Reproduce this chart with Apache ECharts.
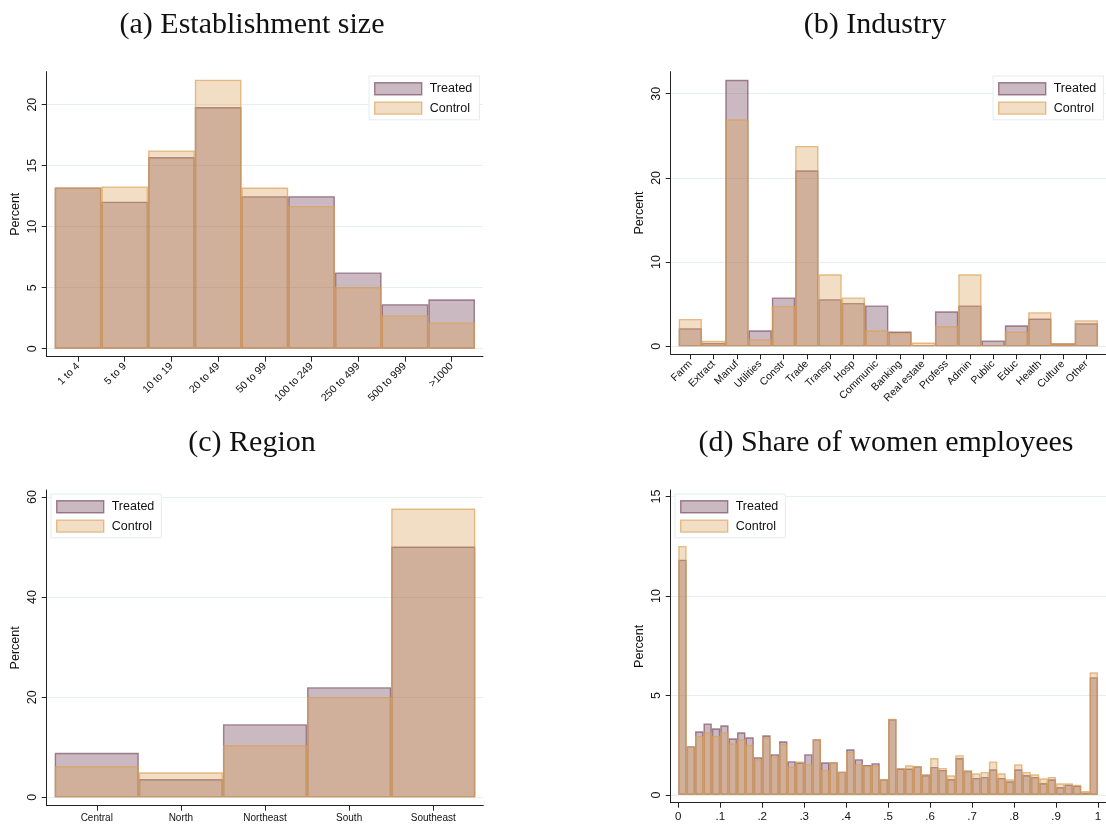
<!DOCTYPE html>
<html>
<head>
<meta charset="utf-8">
<script src="https://cdn.jsdelivr.net/npm/echarts@6/dist/echarts.min.js"></script>
<style>
html,body{margin:0;padding:0;background:#fff;}
#chart{width:1106px;height:838px;}
</style>
</head>
<body>
<div id="chart"></div>
<script>
// ---------- DATA ----------
const panelTitles = ['(a) Establishment size', '(b) Industry', '(c) Region', '(d) Share of women employees'];
const seriesNames = ['Treated', 'Control'];

const sizeCats = ['1 to 4', '5 to 9', '10 to 19', '20 to 49', '50 to 99', '100 to 249', '250 to 499', '500 to 999', '>1000'];
const sizeTreated = [13.2, 12.05, 15.7, 19.8, 12.5, 12.5, 6.25, 3.65, 4.05];
const sizeControl = [13.2, 13.3, 16.25, 22.05, 13.2, 11.7, 5.05, 2.75, 2.15];
const sizeYTicks = [0, 5, 10, 15, 20];

const industryCats = ['Farm', 'Extract', 'Manuf', 'Utilities', 'Constr', 'Trade', 'Transp', 'Hosp', 'Communic', 'Banking', 'Real estate', 'Profess', 'Admin', 'Public', 'Educ', 'Health', 'Culture', 'Other'];
const industryTreated = [2.15, 0.4, 31.65, 1.9, 5.8, 20.9, 5.6, 5.15, 4.85, 1.75, 0.15, 4.15, 4.85, 0.7, 2.5, 3.3, 0.35, 2.75];
const industryControl = [3.25, 0.65, 26.95, 0.85, 4.8, 23.8, 8.55, 5.8, 1.9, 1.6, 0.45, 2.4, 8.55, 0.15, 1.75, 4.05, 0.35, 3.1];
const industryYTicks = [0, 10, 20, 30];

const regionCats = ['Central', 'North', 'Northeast', 'South', 'Southeast'];
const regionTreated = [8.9, 3.65, 14.6, 22.0, 50.1];
const regionControl = [6.25, 5.0, 10.45, 20.05, 57.7];
const regionYTicks = [0, 20, 40, 60];

const womenBinWidth = 0.02;
const womenTreated = [11.83, 2.45, 3.2, 3.6, 3.35, 3.5, 2.85, 3.15, 2.9, 1.9,
  3.0, 2.05, 2.7, 1.7, 1.63, 2.05, 2.8, 1.64, 1.64, 1.17,
  2.3, 1.8, 1.51, 1.6, 0.79, 3.81, 1.33, 1.33, 1.44, 1.0,
  1.41, 1.26, 0.8, 1.86, 1.22, 0.86, 0.91, 1.29, 0.86, 0.69,
  1.29, 1.0, 0.91, 0.6, 0.79, 0.4, 0.52, 0.47, 0.12, 5.92];
const womenControl = [12.52, 2.43, 2.97, 3.15, 2.97, 3.15, 2.6, 2.8, 2.52, 1.81,
  2.9, 1.93, 2.57, 1.43, 1.68, 1.56, 2.8, 1.26, 1.64, 1.17,
  2.18, 1.56, 1.46, 1.48, 0.79, 3.83, 1.36, 1.49, 1.44, 1.06,
  1.86, 1.36, 0.99, 2.0, 1.24, 1.09, 1.16, 1.69, 1.09, 0.79,
  1.54, 1.16, 1.04, 0.84, 0.91, 0.59, 0.59, 0.52, 0.2, 6.17];
const womenXTicks = [0, 0.1, 0.2, 0.3, 0.4, 0.5, 0.6, 0.7, 0.8, 0.9, 1];
const womenXLabels = ['0', '.1', '.2', '.3', '.4', '.5', '.6', '.7', '.8', '.9', '1'];
const womenYTicks = [0, 5, 10, 15];

// ---------- STYLE ----------
const SANS = "'Liberation Sans', Arial, sans-serif";
const SERIF = "'Liberation Serif', 'Times New Roman', serif";
const styles = {
  Treated: { color: 'rgba(106,55,78,0.35)', borderColor: 'rgba(106,55,78,0.6)', borderWidth: 1.4 },
  Control: { color: 'rgba(218,161,86,0.35)', borderColor: 'rgba(218,161,86,0.68)', borderWidth: 1.4 }
};
const gridColor = '#e6eff0';
const axisColor = '#222';

const panels = [
  { grid: { left: 46.7, top: 71.7, width: 436.3, height: 285 }, xMin: 0.329, xMax: 9.671, yMin: -0.656, yMax: 22.70,
    cats: sizeCats, treated: sizeTreated, control: sizeControl, yTicks: sizeYTicks, rot: 45, xFont: 10.5,
    legend: { left: 369, top: 76 }, title: { x: 247, y: 5 } },
  { grid: { left: 670.7, top: 71.7, width: 437, height: 282.6 }, xMin: 0.158, xMax: 18.842, yMin: -0.95, yMax: 32.61,
    cats: industryCats, treated: industryTreated, control: industryControl, yTicks: industryYTicks, rot: 45, xFont: 10.5,
    legend: { left: 993, top: 76 }, title: { x: 870, y: 5 } },
  { grid: { left: 46.7, top: 490, width: 436.6, height: 315.7 }, xMin: 0.405, xMax: 5.595, yMin: -1.68, yMax: 61.4,
    cats: regionCats, treated: regionTreated, control: regionControl, yTicks: regionYTicks, rot: 0, xFont: 10,
    legend: { left: 51, top: 494 }, title: { x: 247, y: 423 } },
  { grid: { left: 670.7, top: 490, width: 437.7, height: 312.7 }, xMin: -0.018, xMax: 1.019, yMin: -0.387, yMax: 15.33,
    hist: true, treated: womenTreated, control: womenControl, yTicks: womenYTicks, rot: 0, xFont: 11.5,
    legend: { left: 675, top: 494 }, title: { x: 881, y: 423 } }
];

const option = { animation: false, backgroundColor: '#fff', grid: [], xAxis: [], yAxis: [], series: [], legend: [], title: [] };

panels.forEach((p, gi) => {
  option.grid.push(Object.assign({ containLabel: false }, p.grid));
  option.title.push({
    text: panelTitles[gi], left: p.title.x, top: p.title.y, textAlign: 'center',
    textStyle: { fontFamily: SERIF, fontSize: 30, fontWeight: 'normal', color: '#111' }
  });
  let xTickVals, xFormatter;
  if (p.hist) {
    xTickVals = womenXTicks;
    xFormatter = v => womenXLabels[womenXTicks.findIndex(t => Math.abs(t - v) < 1e-9)];
  } else {
    xTickVals = p.cats.map((c, i) => i + 1);
    xFormatter = v => p.cats[Math.round(v) - 1];
  }
  option.xAxis.push({
    type: 'value', gridIndex: gi, min: p.xMin, max: p.xMax,
    axisLine: { show: true, onZero: false, lineStyle: { color: axisColor, width: 1 } },
    axisTick: { show: true, length: 5, customValues: xTickVals, lineStyle: { color: axisColor } },
    axisLabel: { customValues: xTickVals, formatter: xFormatter, rotate: p.rot, fontFamily: SANS, fontSize: p.xFont, color: '#111', margin: 8 },
    splitLine: { show: false }
  });
  option.yAxis.push({
    type: 'value', gridIndex: gi, min: p.yMin, max: p.yMax,
    name: 'Percent', nameLocation: 'middle', nameGap: 25, nameRotate: 90,
    nameTextStyle: { fontFamily: SANS, fontSize: 12.5, color: '#111' },
    axisLine: { show: true, onZero: false, lineStyle: { color: axisColor, width: 1 } },
    axisTick: { show: true, length: 5, customValues: p.yTicks, lineStyle: { color: axisColor } },
    axisLabel: { customValues: p.yTicks, rotate: 90, fontFamily: SANS, fontSize: 12.5, color: '#111', margin: 8 },
    splitLine: { show: true, lineStyle: { color: gridColor, width: 1 } }
  });
  const toData = arr => p.hist
    ? arr.map((v, i) => [(i + 0.5) * womenBinWidth, v])
    : arr.map((v, i) => [i + 1, v]);
  [['Treated', p.treated], ['Control', p.control]].forEach(([name, arr]) => {
    option.series.push({
      type: 'bar', name: name, xAxisIndex: gi, yAxisIndex: gi,
      barWidth: '100%', barGap: '-100%',
      itemStyle: styles[name],
      emphasis: { disabled: true },
      data: toData(arr)
    });
  });
  option.legend.push({
    orient: 'vertical', left: p.legend.left, top: p.legend.top,
    padding: [6, 7, 5, 5], itemGap: 6, itemWidth: 47, itemHeight: 12, icon: 'rect',
    borderColor: '#e4ecee', borderWidth: 1, backgroundColor: '#fff',
    textStyle: { fontFamily: SANS, fontSize: 12.5, color: '#111', padding: [0, 0, 0, 3] },
    data: seriesNames.map(n => ({ name: n, itemStyle: styles[n] }))
  });
});

const chart = echarts.init(document.getElementById('chart'), null, { renderer: 'canvas' });
chart.setOption(option);
</script>
</body>
</html>
